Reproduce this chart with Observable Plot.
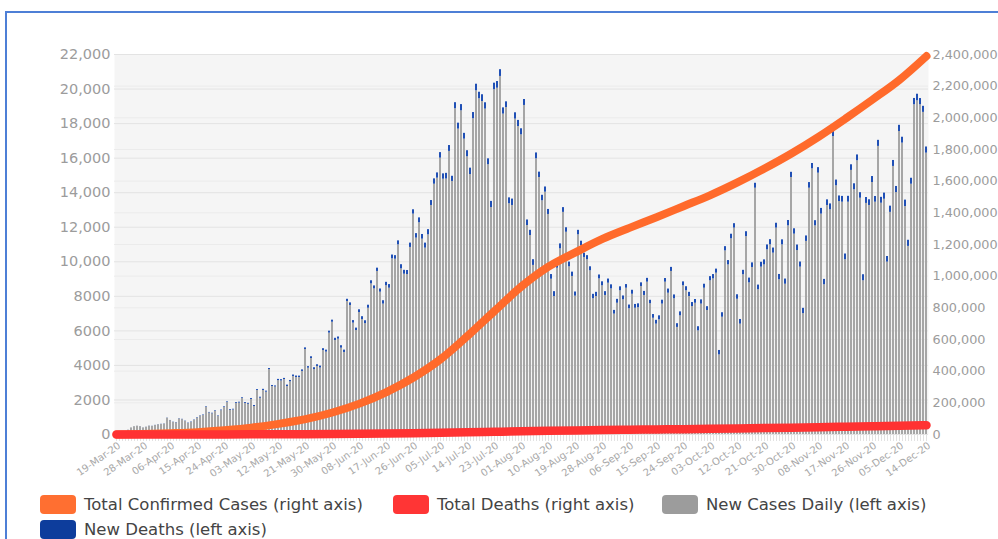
<!DOCTYPE html>
<html><head><meta charset="utf-8">
<script src="https://cdn.jsdelivr.net/npm/d3@7"></script>
<script src="https://cdn.jsdelivr.net/npm/@observablehq/plot@0.6"></script>
<style>
html,body{margin:0;padding:0;width:998px;height:539px;overflow:hidden;background:#fff;}
#frame{position:absolute;left:5px;top:11px;width:1100px;height:700px;border-left:2px solid #4e7fd6;border-top:2px solid #4e7fd6;}
#chart{position:absolute;left:0;top:0;width:1010px;}
#chart svg{max-width:none !important;}
#legend{position:absolute;left:0;top:0;font-family:"DejaVu Sans",sans-serif;font-size:16.5px;color:#444;}
.item{position:absolute;display:flex;align-items:center;white-space:nowrap;height:20px;}
.sw{width:36px;height:19px;border-radius:4px;margin-right:8px;flex:none;}
</style></head><body>
<div id="frame"></div>
<div id="chart"></div>
<div id="legend"></div>
<script>
// ---- data ----
const startDate = new Date(Date.UTC(2020, 2, 19));
const endDate = new Date(Date.UTC(2020, 11, 15));
const fmtDate = d3.utcFormat("%d-%b-%y");
const dates = d3.utcDay.range(startDate, endDate).map(fmtDate);

const newCasesDaily = [
  50,80,100,150,250,380,450,480,450, 380,420,480,470,520,560,580,600,940,
  800,700,680,900,860,760,640,700,820, 950,1050,1100,1580,1250,1200,1350,1050,1380,
  1560,1850,1400,1420,1800,1820,2080,1800,1750,
  2030,1620,2550,2100,2550,2450,3760,2780,2750,3120, 3100,3180,2780,3050,3360,3300,3300,3650,4920,3840,
  4400,3760,3940,3850,4860,4770,5870,6500,5440,5520, 5000,4750,7700,7470,6450,6020,7060,6650,6420,7310,
  8720,8430,9440,8240,7550,8610,8470,10170,
  10150,10980,9590,9280,9260,10830,12760,11370,12260,11310, 10790,11560,13260,14490,14840,16000,14780,14790,16390,14650,
  18860,17680,18740,17100,16080,15050,18280,19900,19440,19280, 18840,15620,13140,19960,20050,20730,18550,18930,13360,13260,
  18260,17830,17350,19050,12100,11520,
  9790,15960,14880,13530,14030,12740,8990,7990,9630,10750, 12860,11710,9710,9150,8010,11560,10940,10250,10120,9480,
  7860,7990,9010,8610,8050,8760,8430,6970,7600,8320, 7800,8470,7280,8120,7310,7340,8570,8050,8820,7570,
  6730,6390,6640,7550,8820,
  8180,9440,7860,6200,6870,8610,8320,7990,7410,7600, 6000,7550,8470,7180,8900,9010,9340,4610,6790,10630,
  9820,11330,11950,7830,6390,9250,11460,8780,9670,14260, 8380,9690,9820,10690,10980,10500,11950,8960,10980,8700,
  12080,14880,11600,10650,9690,
  7000,11180,14260,15380,12080,15130,12760,8670,13260,13010, 17250,14400,13490,13450,10120,13450,15290,14170,15850,13680,
  8900,13380,13260,14590,13450,16680,13390,13620,9980,12860, 15520,14010,17540,16870,13200,10890,14490,19090,19320,19090,
  18650,16290
];

const newDeathsDaily = [
  0,0,1,1,2,2,3,3,5, 5,6,7,8,8,9,10,12,12, 12,14,15,16,18,17,20,22,20,
  25,24,28,30,27,30,32,28,35, 40,38,45,42,48,50,45,52,55, 55,60,52,58,65,62,60,58,62,
  70,75,68,80,78,82,85,80,90, 95,90,100,105,98,110,108,115,112, 120,130,125,140,135,128,150,145,140,
  160,170,165,175,180,172,190,185,195, 200,210,220,205,230,240,225,235,250, 250,260,280,270,290,300,285,310,305,
  320,310,330,340,300,350,345,360,335, 350,370,360,380,375,390,365,340,355, 380,385,390,360,330,340,370,365,355,
  350,345,320,300,330,340,310,320,300, 290,270,280,300,285,275,260,270,250, 240,260,250,245,235,230,255,240,225,
  230,220,240,235,215,225,230,220,210, 215,230,220,225,210,235,220,200,215, 220,230,225,210,240,235,220,215,230,
  225,235,240,230,215,240,245,230,220, 240,250,235,255,260,245,250,265,255, 260,270,255,280,275,265,285,270,280,
  290,285,300,295,280,305,290,300,310, 300,310,320,295,305,315,325,310,300, 320,330,310,325,340,315,330,320,335,
  330,340,325,345,335,320,350,340,330, 345,330,350,340,355,325,360,345,350, 360,340,370,355,345,365,380,360,350,
  355
];

const tickLabels = ["19-Mar-20","28-Mar-20","06-Apr-20","15-Apr-20","24-Apr-20","03-May-20","12-May-20","21-May-20",
  "30-May-20","08-Jun-20","17-Jun-20","26-Jun-20","05-Jul-20","14-Jul-20","23-Jul-20","01-Aug-20","10-Aug-20",
  "19-Aug-20","28-Aug-20","06-Sep-20","15-Sep-20","24-Sep-20","03-Oct-20","12-Oct-20","21-Oct-20","30-Oct-20",
  "08-Nov-20","17-Nov-20","26-Nov-20","05-Dec-20","14-Dec-20"];

const totalConfirmed = [150,2800,8100,15000,27000,43000,67000,97000,139000,195000,268000,360000,475000,622000,
  780000,935000,1060000,1150000,1235000,1305000,1372000,1442000,1512000,1592000,1680000,1775000,1880000,
  1995000,2115000,2240000,2390000];

const totalDeaths = [0,20,100,270,550,980,1520,2250,3200,4450,6050,8100,10650,13650,16950,20200,23100,25600,
  27800,29800,31800,33800,35900,38150,40600,43250,46000,48950,51950,55050,58400];

const leftTicks = d3.range(0, 22001, 2000);
const rightTicks = d3.range(0, 2400001, 200000);

// ---- build tables ----
const k = 22000 / 2400000; // right axis -> left axis units
const daily = dates.map((date, i) => ({date, cases: newCasesDaily[i], deaths: newDeathsDaily[i]}));
const totals = tickLabels.map((date, i) => ({date, total: totalConfirmed[i], deaths: totalDeaths[i]}));

const W = 1010, H = 500;
const fmtL = v => v >= 10000 ? d3.format(",")(v) : String(v);
const chart = Plot.plot({
  width: W, height: H,
  marginLeft: 114, marginRight: W - 928, marginTop: 54, marginBottom: H - 434,
  style: {fontFamily: "DejaVu Sans", background: "transparent", overflow: "visible", maxWidth: "none"},
  x: {type: "band", domain: dates, paddingInner: 0.2, paddingOuter: 0, label: null},
  y: {domain: [0, 22000], label: null},
  marks: [
    Plot.frame({fill: "#f5f5f5", stroke: null}),
    Plot.gridY({ticks: rightTicks.map(v => v * k), stroke: "#ebebeb", strokeOpacity: 1}),
    Plot.gridY({ticks: leftTicks, stroke: "#e3e3e3", strokeOpacity: 1}),
    Plot.axisX({ticks: dates, tickSize: 7, tickFormat: () => "", color: "#e2e2e2", label: null}),
    Plot.axisX({ticks: tickLabels, tickSize: 0, tickPadding: 10, tickRotate: -35, dx: 3, fontSize: 10, color: "#a8a8a8", label: null}),
    Plot.axisY({ticks: leftTicks, anchor: "left", tickSize: 0, tickPadding: 4, tickFormat: fmtL, fontSize: 14.5, color: "#9c9c9c", label: null}),
    Plot.axisY({ticks: rightTicks.map(v => v * k), anchor: "right", tickSize: 0, tickPadding: 4,
      tickFormat: v => d3.format(",")(Math.round(v / k)), fontSize: 12.8, color: "#9c9c9c", label: null}),
    Plot.barY(daily, {x: "date", y1: 0, y2: "cases", fill: "#a6a6a6"}),
    Plot.barY(daily, {x: "date", y1: "cases", y2: d => d.cases + d.deaths, fill: "#1f4fb5"}),
    Plot.line(totals, {x: "date", y: d => d.total * k, stroke: "#ff6a2b", strokeWidth: 8, curve: "monotone-x", strokeLinecap: "round"}),
    Plot.line(totals, {x: "date", y: d => d.deaths * k, stroke: "#ff3232", strokeWidth: 8.5, curve: "monotone-x", strokeLinecap: "round"})
  ]
});
document.getElementById("chart").appendChild(chart);

// ---- legend ----
const legendItems = [
  {label: "Total Confirmed Cases (right axis)", color: "#ff6f31", left: 40, top: 494},
  {label: "Total Deaths (right axis)", color: "#ff3535", left: 393, top: 494},
  {label: "New Cases Daily (left axis)", color: "#9c9c9c", left: 662, top: 494},
  {label: "New Deaths (left axis)", color: "#0d3d9c", left: 40, top: 519}
];
const lg = document.getElementById("legend");
for (const it of legendItems) {
  const div = document.createElement("div");
  div.className = "item";
  div.style.left = it.left + "px";
  div.style.top = it.top + "px";
  div.innerHTML = `<span class="sw" style="background:${it.color}"></span><span>${it.label}</span>`;
  lg.appendChild(div);
}
</script>
</body></html>
